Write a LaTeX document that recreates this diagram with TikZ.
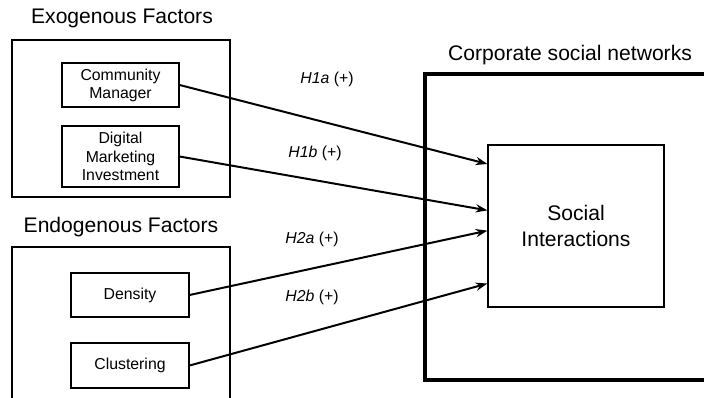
\documentclass[tikz,border=0pt]{standalone}
\usepackage{fontspec}
\setmainfont{Liberation Sans}
\usetikzlibrary{arrows.meta}

\tikzset{
  factor/.style={draw, line width=1pt, align=center, inner sep=1pt,
    font=\fontsize{13.5}{15.5}\selectfont},
  frame/.style={line width=2pt},
  title/.style={inner sep=0pt, font=\fontsize{18}{21}\selectfont},
  hyp/.style={inner sep=0pt, font=\fontsize{13.5}{15}\selectfont},
  link/.style={line width=1.7pt, -{Stealth[length=10pt,width=7pt]}}
}

\begin{document}
\begin{tikzpicture}[x=0.03cm, y=-0.03cm]
\useasboundingbox (0,0) rectangle (704,398);
\clip (0,0) rectangle (704,398);
% frames
\draw[frame] (12,40) rectangle (230,197);
\draw[frame] (12,247) rectangle (230,420);
\draw[line width=3pt] (425,74) rectangle (730,380);
\node[title] (exo) at (122,18) {Exogenous Factors};
\node[title] (endo) at (121,227) {Endogenous Factors};
\node[title] (csn) at (570,55) {Corporate social networks};
% factors
\node[factor, minimum width=3.51cm, minimum height=1.32cm] (cm) at (120.5,85) {Community\\Manager};
\node[factor, minimum width=3.51cm, minimum height=1.83cm] (dmi) at (120.5,156.5) {Digital\\Marketing\\Investment};
\node[factor, minimum width=3.54cm, minimum height=1.32cm] (dens) at (130,295) {Density};
\node[factor, minimum width=3.54cm, minimum height=1.35cm] (clus) at (130,365.5) {Clustering};
\node[factor, minimum width=5.28cm, minimum height=4.86cm, font=\fontsize{18}{22}\selectfont] (si) at (576,226) {Social\\Interactions};
% hypotheses
\node[hyp] (h1a) at (327,79) {\textit{H1a} (+)};
\node[hyp] (h1b) at (315,153) {\textit{H1b} (+)};
\node[hyp] (h2a) at (312,239) {\textit{H2a} (+)};
\node[hyp] (h2b) at (312,297) {\textit{H2b} (+)};
\draw[link] (cm.east) to (si.145);
\draw[link] (dmi.east) to (si.170);
\draw[link] (dens.east) to (si.183);
\draw[link] (clus.east) to (si.213);
\end{tikzpicture}
\end{document}
